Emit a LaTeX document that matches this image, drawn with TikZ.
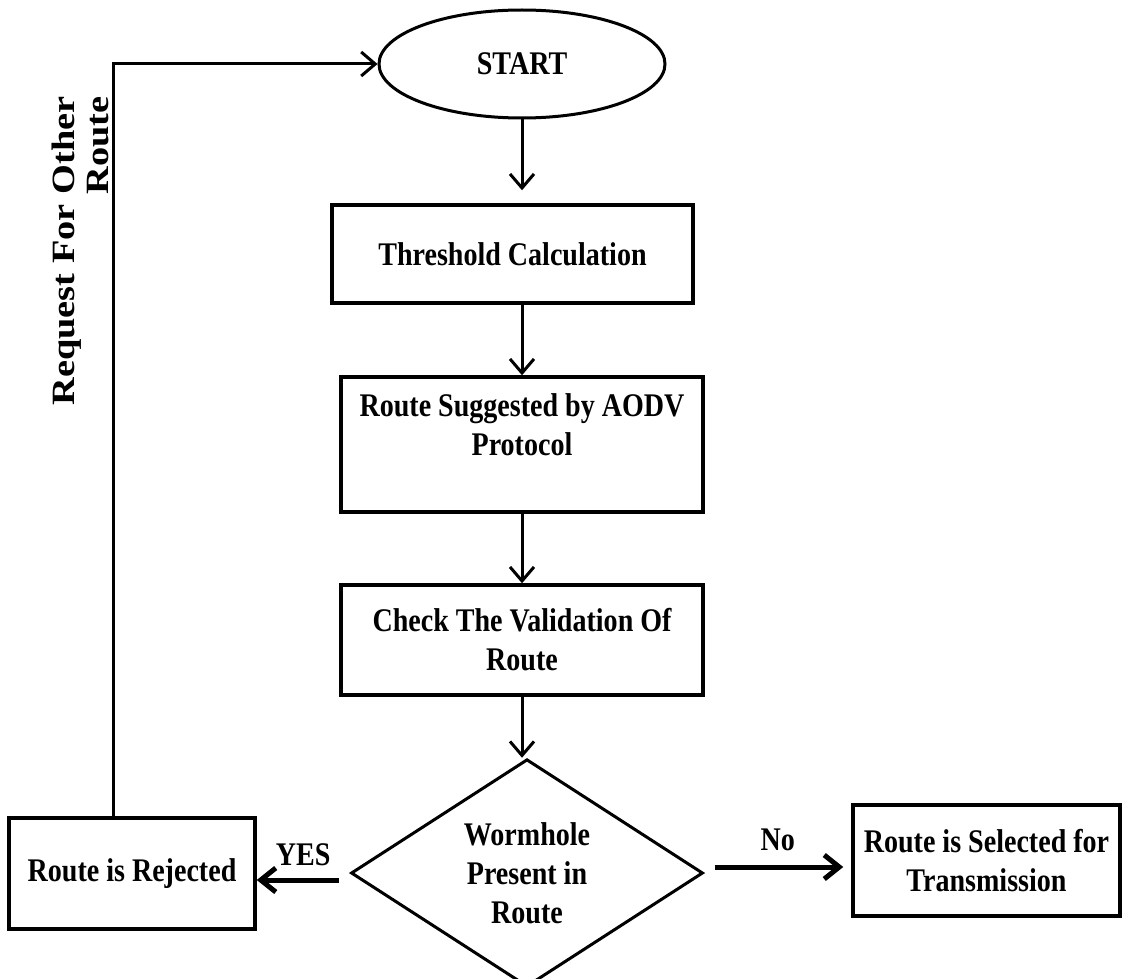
\documentclass[tikz,border=0pt]{standalone}
\usepackage{fontspec}
\newfontfamily\flowfont{Liberation Serif}[FakeStretch=0.85]
\newfontfamily\sidefont{Liberation Serif}[FakeStretch=1.18]
\usetikzlibrary{shapes.geometric, arrows.meta}
\tikzstyle{startstop} = [ellipse, draw=black, line width=3pt, minimum width=286pt, minimum height=108pt, inner sep=0pt]
\tikzstyle{process} = [rectangle, draw=black, line width=3.5pt, text centered, align=center, inner sep=4pt]
\tikzstyle{decision} = [diamond, draw=black, line width=3pt, text centered, align=center, inner sep=0pt, minimum width=352pt, minimum height=208pt]
\tikzstyle{side_label} = [font=\sidefont\bfseries\fontsize{32.5}{34}\selectfont, align=right, rotate=90]
\tikzstyle{flow_step} = [line width=3pt, ->, >={Straight Barb[length=14pt, width=24pt]}]
\tikzstyle{choice_step} = [line width=5pt, ->, >={Straight Barb[length=15pt, width=24pt]}]

\begin{document}
\begin{tikzpicture}[x=1pt, y=-1pt, font=\flowfont\bfseries\fontsize{33}{39}\selectfont]

    % page border
    \useasboundingbox (0, 0) rectangle (1122, 979);

    \node (start) [startstop] at (522, 64) {START};
    \node (threshold) [process, minimum width=361pt, minimum height=98pt] at (512.5, 254) {Threshold Calculation};
    \node (suggest) [process, minimum width=362pt, minimum height=135pt, text depth=40pt] at (522, 444.5) {Route Suggested by AODV\\Protocol};
    \node (check) [process, minimum width=362pt, minimum height=110pt] at (522, 640) {Check The Validation Of\\Route};
    \node (wormhole) [decision] at (527, 873) {Wormhole\\Present in\\Route};
    \node (rejected) [process, minimum width=246pt, minimum height=111pt] at (132, 873.5) {Route is Rejected};
    \node (selected) [process, minimum width=267pt, minimum height=111pt] at (986.5, 860.5) {Route is Selected for\\Transmission};

    \draw [flow_step, shorten >=13pt] (start.south) -- (start.south |- threshold.north);
    \draw [flow_step] (start.south |- threshold.south) -- (start.south |- suggest.north);
    \draw [flow_step] (suggest.south) -- (check.north);
    \draw [flow_step] (check.south) -- (check.south |- wormhole.north);

    \draw [choice_step, shorten <=11pt] ([yshift=-7pt]wormhole.west) -- node [above=8pt] (yes) {YES} ([yshift=-7pt]wormhole.west -| rejected.east);
    \draw [choice_step, shorten <=10pt, shorten >=8pt] ([yshift=6pt]wormhole.east) -- node [above=10pt] (no) {No} ([yshift=6pt]wormhole.east -| selected.west);

    % loop back to start
    \coordinate (back) at ([xshift=-19pt]rejected.north);
    \draw [flow_step] (back) |- (start.west);
    \node (request) [side_label] at (80, 251) {Request For Other\\Route};

\end{tikzpicture}
\end{document}
